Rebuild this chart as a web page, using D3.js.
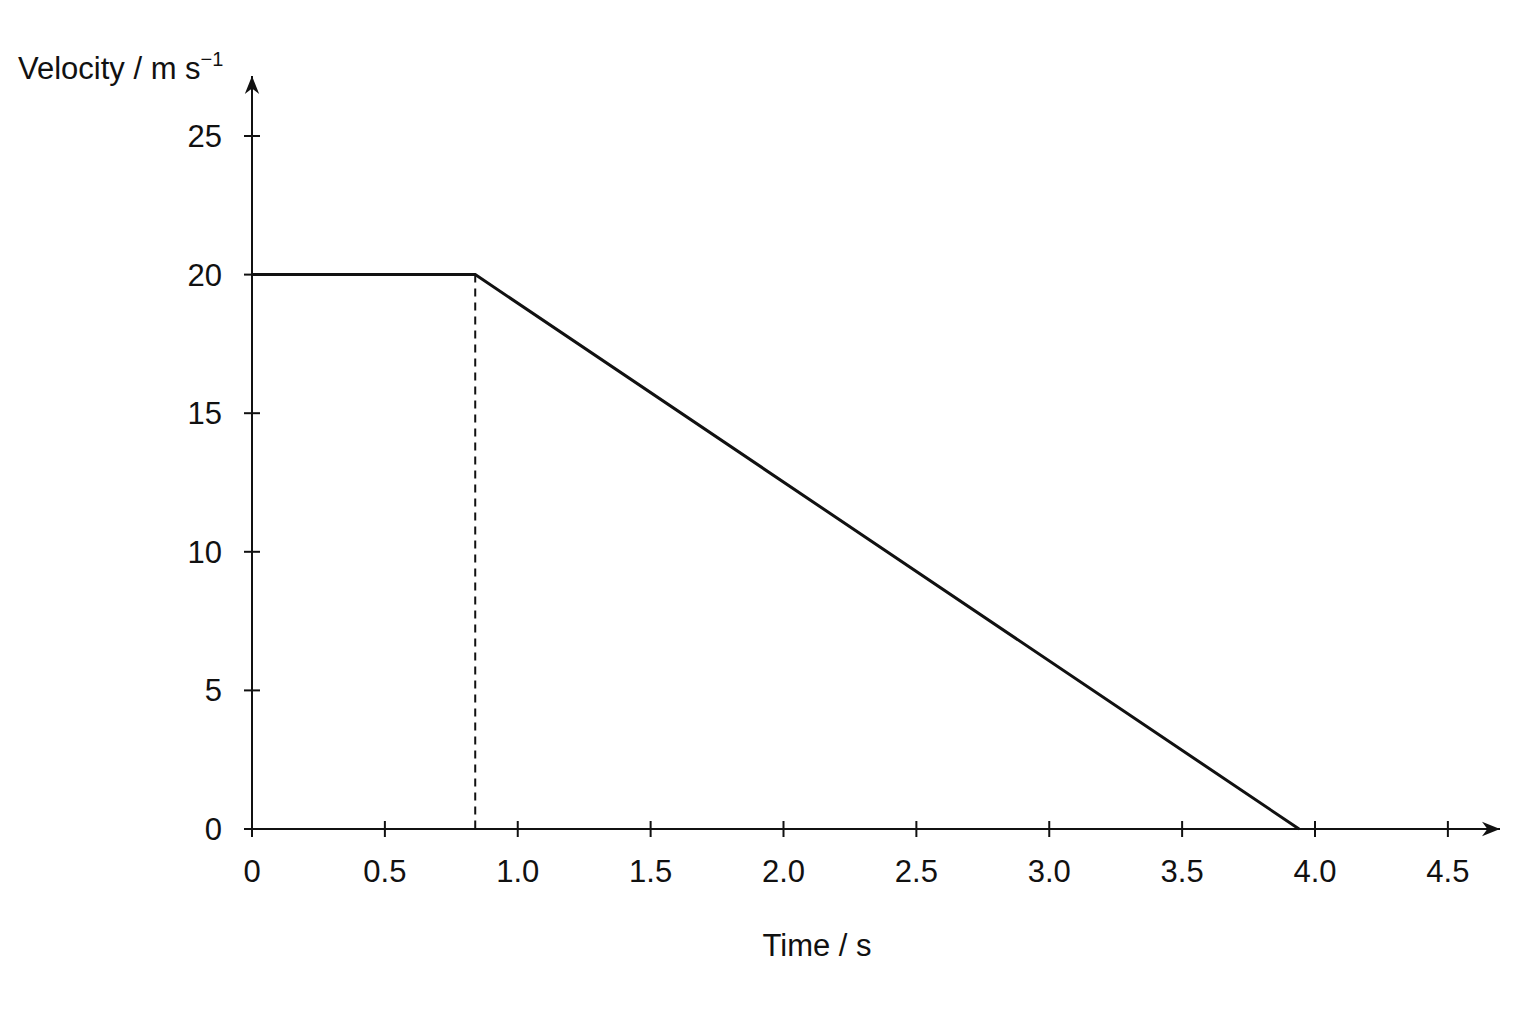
<!DOCTYPE html>
<html><head><meta charset="utf-8">
<script src="https://cdn.jsdelivr.net/npm/d3@7"></script>
<style>body{margin:0;background:#fff}text{font-family:"Liberation Sans",Arial,sans-serif;fill:#111}</style>
</head><body>
<svg id="c" width="1536" height="1024"></svg>
<script>
// velocity-time data
const times = [0, 0.84, 0.84, 3.94];
const speeds = [20, 20, 20, 0];
const dashT = [0.84, 0.84];
const dashV = [20, 0];
const xTicks = [0, 0.5, 1.0, 1.5, 2.0, 2.5, 3.0, 3.5, 4.0, 4.5];
const yTicks = [0, 5, 10, 15, 20, 25];

const svg = d3.select("#c");
const x = d3.scaleLinear().domain([0, 4]).range([252, 1315]);
const y = d3.scaleLinear().domain([0, 25]).range([829, 136]);

svg.append("defs").append("marker").attr("id", "arr")
  .attr("viewBox", "0 0 10 10").attr("refX", 10).attr("refY", 5)
  .attr("markerWidth", 18).attr("markerHeight", 18).attr("markerUnits", "userSpaceOnUse")
  .attr("orient", "auto")
  .append("path").attr("d", "M0,1 L10,5 L0,9 L3,5 Z").attr("fill", "#111");

// axes lines
svg.append("line").attr("x1", x(0)).attr("y1", y(0)).attr("x2", 1500).attr("y2", y(0))
  .attr("stroke", "#111").attr("stroke-width", 2).attr("marker-end", "url(#arr)");
svg.append("line").attr("x1", x(0)).attr("y1", y(0)).attr("x2", x(0)).attr("y2", 76)
  .attr("stroke", "#111").attr("stroke-width", 2).attr("marker-end", "url(#arr)");

// ticks
const gx = svg.append("g");
xTicks.forEach(t => {
  gx.append("line").attr("x1", x(t)).attr("x2", x(t)).attr("y1", y(0) - 8).attr("y2", y(0) + 8)
    .attr("stroke", "#111").attr("stroke-width", 2);
  gx.append("text").attr("x", x(t)).attr("y", 882).attr("text-anchor", "middle")
    .attr("font-size", 31).text(t === 0 ? "0" : t.toFixed(1));
});
const gy = svg.append("g");
yTicks.forEach(t => {
  gy.append("line").attr("x1", x(0) - 8).attr("x2", x(0) + 8).attr("y1", y(t)).attr("y2", y(t))
    .attr("stroke", "#111").attr("stroke-width", 2);
  gy.append("text").attr("x", 222).attr("y", y(t) + 11).attr("text-anchor", "end")
    .attr("font-size", 31).text(t);
});

// data line
const line = d3.line().x(d => x(d[0])).y(d => y(d[1]));
svg.append("path").datum(d3.zip(times, speeds)).attr("d", line)
  .attr("fill", "none").attr("stroke", "#111").attr("stroke-width", 3);
svg.append("path").datum(d3.zip(dashT, dashV)).attr("d", line)
  .attr("fill", "none").attr("stroke", "#111").attr("stroke-width", 2).attr("stroke-dasharray", "8,6");

// labels
const yl = svg.append("text").attr("x", 18).attr("y", 79).attr("font-size", 31);
yl.append("tspan").text("Velocity / m s");
yl.append("tspan").attr("dy", -13).attr("font-size", 20).text("\u22121");
svg.append("text").attr("x", 817).attr("y", 956).attr("text-anchor", "middle")
  .attr("font-size", 31).text("Time / s");
</script>
</body></html>
